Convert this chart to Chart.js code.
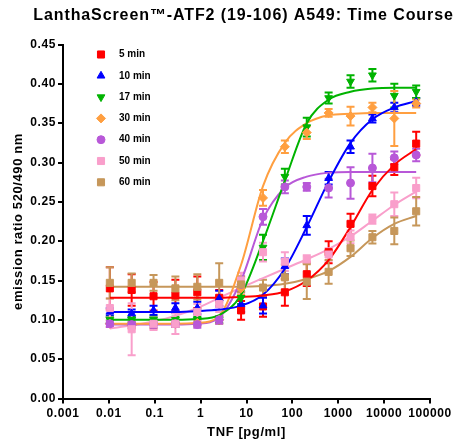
<!DOCTYPE html>
<html>
<head>
<meta charset="utf-8">
<script src="https://cdn.jsdelivr.net/npm/chart.js@4.4.0/dist/chart.umd.min.js"></script>
<style>
  html, body { margin: 0; padding: 0; background: #fff; }
</style>
</head>
<body>
<canvas id="chart" width="461" height="445"></canvas>
<script>
// TNF concentrations (pg/ml), 3-fold dilutions
const conc = [0.0105, 0.0314, 0.0941, 0.282, 0.847, 2.54, 7.62, 22.9, 68.6, 206, 617, 1852, 5556, 16667, 50000];
const xTicks = [0.001, 0.01, 0.1, 1, 10, 100, 1000, 10000, 100000];
const seriesNames = ['5 min', '10 min', '17 min', '30 min', '40 min', '50 min', '60 min'];

// mean emission ratio
const min5  = [0.140, 0.138, 0.130, 0.131, 0.135, 0.128, 0.112, 0.117, 0.135, 0.158, 0.186, 0.222, 0.270, 0.294, 0.324];
const min10 = [0.110, 0.108, 0.112, 0.115, 0.115, 0.127, 0.120, 0.118, 0.168, 0.220, 0.280, 0.320, 0.356, 0.370, 0.377];
const min17 = [0.100, 0.100, 0.100, 0.100, 0.100, 0.100, 0.128, 0.192, 0.282, 0.345, 0.382, 0.403, 0.411, 0.385, 0.390];
const min30 = [0.095, 0.093, 0.094, 0.095, 0.096, 0.100, 0.140, 0.255, 0.320, 0.338, 0.363, 0.359, 0.370, 0.356, 0.375];
const min40 = [0.095, 0.094, 0.094, 0.095, 0.094, 0.100, 0.145, 0.231, 0.269, 0.269, 0.2675, 0.274, 0.293, 0.306, 0.3095];
const min50 = [0.115, 0.088, 0.095, 0.095, 0.110, 0.120, 0.150, 0.186, 0.174, 0.177, 0.183, 0.2055, 0.228, 0.247, 0.2675];
const min60 = [0.147, 0.147, 0.147, 0.140, 0.142, 0.147, 0.145, 0.141, 0.154, 0.1485, 0.161, 0.191, 0.205, 0.213, 0.238];

// error bars (+/-)
const err5  = [0.027, 0.020, 0.018, 0.020, 0.020, 0.010, 0.012, 0.013, 0.017, 0.015, 0.014, 0.013, 0.013, 0.010, 0.015];
const err10 = [0.005, 0.005, 0.006, 0.006, 0.008, 0.010, 0.010, 0.010, 0.010, 0.012, 0.008, 0.008, 0.005, 0.006, 0.005];
const err17 = [0.004, 0.004, 0.004, 0.004, 0.004, 0.004, 0.008, 0.016, 0.010, 0.012, 0.007, 0.008, 0.008, 0.015, 0.008];
const err30 = [0.004, 0.004, 0.005, 0.004, 0.004, 0.005, 0.008, 0.010, 0.008, 0.008, 0.005, 0.012, 0.006, 0.035, 0.005];
const err40 = [0.004, 0.004, 0.004, 0.004, 0.004, 0.005, 0.010, 0.010, 0.008, 0.005, 0.012, 0.020, 0.018, 0.008, 0.008];
const err50 = [0.012, 0.033, 0.008, 0.013, 0.010, 0.010, 0.010, 0.012, 0.012, 0.005, 0.008, 0.008, 0.006, 0.015, 0.013];
const err60 = [0.020, 0.012, 0.010, 0.015, 0.016, 0.025, 0.010, 0.010, 0.016, 0.022, 0.015, 0.010, 0.008, 0.017, 0.018];

const fit5  = [0.128, 0.128, 0.128, 0.128, 0.128, 0.128, 0.129, 0.131, 0.136, 0.150, 0.176, 0.218, 0.265, 0.297, 0.317];
const fit10 = [0.110, 0.110, 0.110, 0.110, 0.111, 0.113, 0.118, 0.132, 0.165, 0.218, 0.276, 0.325, 0.355, 0.370, 0.378];
const fit17 = [0.100, 0.100, 0.100, 0.100, 0.101, 0.106, 0.132, 0.200, 0.277, 0.350, 0.380, 0.390, 0.394, 0.395, 0.395];
const fit30 = [0.095, 0.095, 0.095, 0.095, 0.096, 0.105, 0.170, 0.270, 0.325, 0.350, 0.360, 0.362, 0.363, 0.363, 0.363];
const fit40 = [0.094, 0.094, 0.094, 0.094, 0.095, 0.103, 0.150, 0.228, 0.268, 0.282, 0.287, 0.288, 0.288, 0.288, 0.288];
const fit50 = [0.089, 0.093, 0.098, 0.105, 0.115, 0.128, 0.141, 0.153, 0.165, 0.177, 0.190, 0.206, 0.226, 0.246, 0.263];
const fit60 = [0.142, 0.142, 0.142, 0.142, 0.142, 0.142, 0.142, 0.143, 0.146, 0.152, 0.162, 0.180, 0.204, 0.222, 0.232];

const means = [min5, min10, min17, min30, min40, min50, min60];
const errs = [err5, err10, err17, err30, err40, err50, err60];
const fits = [fit5, fit10, fit17, fit30, fit40, fit50, fit60];
const colors = ['#ff0000', '#0000ff', '#00b300', '#ff9f40', '#b858d8', '#f99fcb', '#c6975a'];
const styles = ['rect', 'triangle', 'triangle', 'rectRot', 'circle', 'rect', 'rect'];
const rotations = [0, 0, 180, 0, 0, 0, 0];
const radii = [5, 4.5, 4.5, 4.5, 4, 5, 5];

const FONT = '"Liberation Sans", Arial, sans-serif';
Chart.defaults.font.family = FONT;
Chart.defaults.color = '#000';

const toPoints = arr => arr.map((v, i) => ({ x: conc[i], y: v }));

const datasets = [];
seriesNames.forEach((name, i) => {
  datasets.push({
    label: name,
    data: toPoints(means[i]),
    errors: errs[i],
    isMarker: true,
    showLine: false,
    pointStyle: styles[i],
    pointRotation: rotations[i],
    pointRadius: radii[i],
    pointBackgroundColor: colors[i],
    pointBorderColor: colors[i],
    pointBorderWidth: 1,
    backgroundColor: colors[i],
    borderColor: colors[i],
    order: 7 - i
  });
});
seriesNames.forEach((name, i) => {
  datasets.push({
    label: name + ' fit',
    data: toPoints(fits[i]),
    showLine: true,
    pointRadius: 0,
    borderColor: colors[i],
    borderWidth: 2,
    cubicInterpolationMode: 'monotone',
    order: 20
  });
});

// error bars with caps, drawn under the markers
const errorBars = {
  id: 'errorBars',
  beforeDatasetsDraw(chart) {
    const { ctx, scales: { x, y } } = chart;
    ctx.save();
    ctx.lineWidth = 2;
    chart.data.datasets.forEach(ds => {
      if (!ds.isMarker) return;
      ctx.strokeStyle = ds.borderColor;
      ds.data.forEach((p, j) => {
        const e = ds.errors[j];
        const px = x.getPixelForValue(p.x);
        const top = y.getPixelForValue(p.y + e);
        const bot = y.getPixelForValue(p.y - e);
        ctx.beginPath();
        ctx.moveTo(px, top); ctx.lineTo(px, bot);
        ctx.moveTo(px - 4, top); ctx.lineTo(px + 4, top);
        ctx.moveTo(px - 4, bot); ctx.lineTo(px + 4, bot);
        ctx.stroke();
      });
    });
    ctx.restore();
  }
};

// wide lettering like the original export
const spacing = {
  id: 'spacing',
  beforeUpdate(chart) { chart.ctx.letterSpacing = '0.6px'; },
  beforeDraw(chart) { chart.ctx.letterSpacing = '0.6px'; }
};

// title + legend inside the plot
const extras = {
  id: 'extras',
  afterDraw(chart) {
    const ctx = chart.ctx;
    const area = chart.chartArea;
    ctx.save();
    ctx.fillStyle = '#000';
    ctx.letterSpacing = '0.9px';
    ctx.font = 'bold 16px ' + FONT;
    ctx.textAlign = 'center';
    ctx.textBaseline = 'middle';
    ctx.fillText('LanthaScreen™-ATF2 (19-106) A549: Time Course', 243.5, 16);

    ctx.letterSpacing = '0px';
    ctx.font = 'bold 10px ' + FONT;
    ctx.textAlign = 'left';
    chart.data.datasets.filter(ds => ds.isMarker).forEach((ds, i) => {
      const yy = area.top + 10 + i * 21.3;
      const xx = area.left + 38;
      ctx.fillStyle = ds.backgroundColor;
      ctx.strokeStyle = ds.borderColor;
      Chart.helpers.drawPoint(ctx, {
        pointStyle: ds.pointStyle, rotation: ds.pointRotation,
        radius: ds.pointRadius, borderWidth: 1
      }, xx, yy);
      ctx.fillStyle = '#000';
      ctx.fillText(ds.label, xx + 18, yy);
    });
    ctx.restore();
  }
};

new Chart(document.getElementById('chart'), {
  type: 'scatter',
  data: { datasets },
  plugins: [spacing, errorBars, extras],
  options: {
    responsive: false,
    animation: false,
    layout: { padding: { top: 44.5, right: 31, bottom: 0, left: 0 } },
    plugins: { legend: { display: false }, tooltip: { enabled: false } },
    scales: {
      x: {
        type: 'logarithmic',
        min: 0.001,
        max: 100000,
        afterBuildTicks: scale => { scale.ticks = xTicks.map(v => ({ value: v })); },
        afterFit: scale => { scale.height = 46.5; },
        ticks: {
          font: { size: 12, weight: 'bold' },
          padding: 3,
          maxRotation: 0,
          autoSkip: false,
          callback: v => String(v)
        },
        grid: { drawOnChartArea: false, drawTicks: true, tickLength: 5, lineWidth: 2, color: '#000' },
        border: { display: true, color: '#000', width: 2 },
        title: { display: true, text: 'TNF [pg/ml]', font: { size: 13, weight: 'bold' }, padding: { top: 0, bottom: 5 } }
      },
      y: {
        min: 0,
        max: 0.45,
        afterFit: scale => { scale.width = 63; },
        ticks: {
          stepSize: 0.05,
          font: { size: 12, weight: 'bold' },
          padding: 2,
          callback: v => v.toFixed(2)
        },
        grid: { drawOnChartArea: false, drawTicks: true, tickLength: 5, lineWidth: 2, color: '#000' },
        border: { display: true, color: '#000', width: 2 },
        title: { display: true, text: 'emission ratio 520/490 nm', font: { size: 13, weight: 'bold' }, padding: { top: 11, bottom: 0 } }
      }
    }
  }
});
</script>
</body>
</html>
